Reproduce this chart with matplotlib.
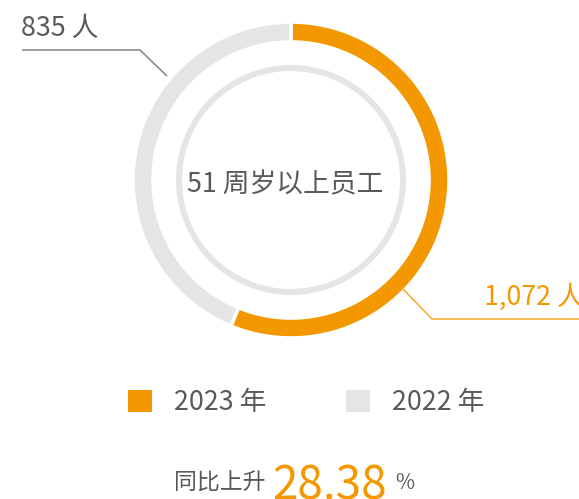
import matplotlib
matplotlib.use("Agg")
import matplotlib.pyplot as plt
from matplotlib.patches import Patch

plt.rcParams['font.family'] = ['Noto Sans CJK SC', 'DejaVu Sans']

# Employees aged 51 and above
years = ["2023 年", "2022 年"]
counts = [1072, 835]
center_title = "51 周岁以上员工"

ORANGE = "#F39800"
GREY = "#E5E5E5"
TEXT = "#595959"
LINE_GREY = "#8C8C8C"
LINE_ORANGE = "#F7B040"

W, H = 579, 499
FS = 19.3
fig = plt.figure(figsize=(W / 100, H / 100), dpi=100)
ax = fig.add_axes([0, 0, 1, 1])

cx, cy = 291, H - 180

# outer ring: 2023 vs 2022
ax.pie(counts, colors=[ORANGE, GREY], startangle=90, counterclock=False,
       radius=158, center=(cx, cy),
       wedgeprops=dict(width=20, edgecolor="white", linewidth=2.6))
# thin inner ring
ax.pie([1], colors=[GREY], radius=115, center=(cx, cy),
       wedgeprops=dict(width=6, linewidth=0))

ax.set_xlim(0, W)
ax.set_ylim(0, H)
ax.set_aspect("equal")
ax.axis("off")

# centre caption
ax.text(285, H - 185, center_title, ha="center", va="center",
        fontsize=FS, color=TEXT)

# leader line + label for 2022
ax.plot([167, 140, 22], [H - 76, H - 50, H - 50], color=LINE_GREY, lw=1.2,
        solid_capstyle="butt")
ax.text(21, H - 28, f"{counts[1]:,} 人", ha="left", va="center",
        fontsize=FS, color=TEXT)

# leader line + label for 2023
ax.plot([402, 432, 579], [H - 288, H - 319, H - 319], color=LINE_ORANGE,
        lw=1.2, solid_capstyle="butt")
ax.text(484, H - 297, f"{counts[0]:,} 人", ha="left", va="center",
        fontsize=FS, color=ORANGE)

# legend
handles = [Patch(facecolor=ORANGE, edgecolor="none"),
           Patch(facecolor=GREY, edgecolor="none")]
leg = ax.legend(handles, years, ncol=2, frameon=False, fontsize=FS,
                handlelength=0.9, handleheight=0.9, handletextpad=0.82,
                columnspacing=2.95, borderpad=0, borderaxespad=0,
                loc="center left", bbox_to_anchor=(128 / W, 1 - 403 / H),
                labelcolor=TEXT)

# year-on-year growth
growth = (counts[0] - counts[1]) / counts[1] * 100
ax.text(265, H - 483, "同比上升", ha="right", va="center",
        fontsize=16.5, color=TEXT)
ax.text(272, H - 500, f"{growth:.2f}", ha="left", va="baseline",
        fontsize=33, color=ORANGE)
ax.text(395, H - 483, "%", ha="left", va="center",
        fontsize=15, color=TEXT)

fig.savefig("out.png", dpi=100, facecolor="white")
